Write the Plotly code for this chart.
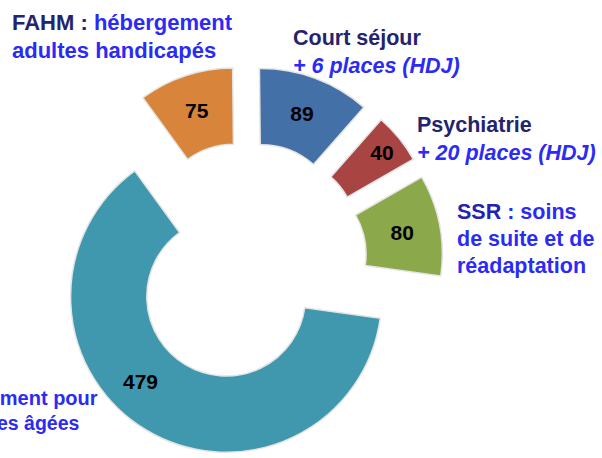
import plotly.graph_objects as go

categories = ["FAHM", "Court séjour", "Psychiatrie", "SSR", "EHPAD"]
values = [75, 89, 40, 80, 479]
colors = ["#D8853B", "#4470A8", "#A84442", "#8BA84B", "#4098AE"]

W, H = 602, 458
FONT = "Liberation Sans"

# the big slice's value label is placed by hand (as in the original)
texts = [str(v) for v in values[:-1]] + [""]

fig = go.Figure(go.Pie(
    labels=categories,
    values=values,
    text=texts,
    sort=False,
    direction="clockwise",
    rotation=-36,
    hole=0.51,
    pull=[0.26] * len(values),
    marker=dict(colors=colors, line=dict(color="#e4e4e4", width=1.5)),
    textinfo="text",
    textposition="inside",
    insidetextorientation="horizontal",
    textfont=dict(family=FONT, size=21, color="black", weight="bold"),
    domain=dict(x=[51 / W, 443 / W], y=[0, 1 - 66 / H]),
    showlegend=False,
    hoverinfo="label+value",
))

navy = "#23236e"
blue = "#2b2bf5"


def ann(text, x, y, color, italic=False, xanchor="left", size=21.5):
    fig.add_annotation(
        text=text, x=x / W, y=1 - y / H, xref="paper", yref="paper",
        xanchor=xanchor, yanchor="middle", showarrow=False,
        font=dict(family=FONT, size=size, color=color, weight="bold",
                  style="italic" if italic else "normal"),
    )


ann("<span style='color:%s'>FAHM :</span> hébergement" % navy, 10, 22, blue, size=22)
ann("adultes handicapés", 10, 50, blue, size=22)
ann("Court séjour", 291, 38, navy)
ann("+ 6 places (HDJ)", 291, 66, blue, italic=True)
ann("Psychiatrie", 415, 125, navy)
ann("+ 20 places (HDJ)", 415, 153, blue, italic=True)
ann("<span style='color:%s'>SSR</span> : soins" % "#2323b0", 455, 212, blue)
ann("de suite et de", 455, 239, blue)
ann("réadaptation", 455, 266, blue)
ann("hébergement pour", 100, 398, blue, xanchor="right", size=20)
ann("personnes âgées", 81, 423, blue, xanchor="right", size=19.5)
ann("<b>%d</b>" % values[-1], 140, 381, "black", xanchor="center", size=21)

fig.update_layout(
    width=W, height=H,
    margin=dict(l=0, r=0, t=0, b=0),
    paper_bgcolor="white",
    plot_bgcolor="white",
)

fig.write_html("out.html", config={"displayModeBar": False},
               post_script="document.body.style.margin='0';")
